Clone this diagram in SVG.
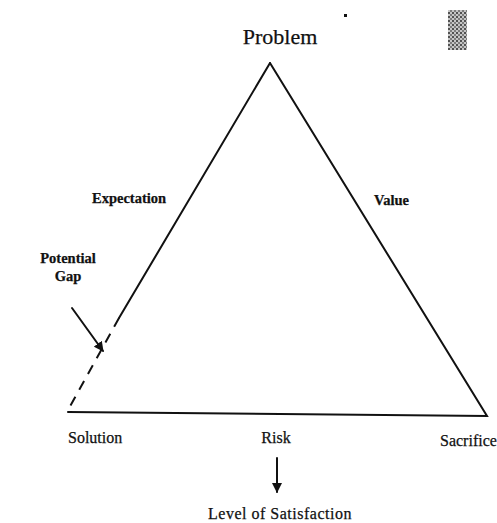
<svg xmlns="http://www.w3.org/2000/svg" width="497" height="523" viewBox="0 0 497 523">
<style>
.t{font-family:"Liberation Serif","Times New Roman",serif;fill:#111;stroke:#111;stroke-width:0.25}
.big{font-size:22px}
.lab{font-size:14.5px;font-weight:bold}
.reg{font-size:16px}
.edge{stroke:#111;stroke-width:2;fill:none;stroke-linecap:round}
.dash{stroke-dasharray:10 8;stroke-linecap:butt}
</style>
<defs>
<marker id="ah" viewBox="0 0 10 10" refX="9" refY="5" markerWidth="5" markerHeight="5" orient="auto">
<path d="M0,0 L10,5 L0,10 z" fill="#111"/>
</marker>
<pattern id="noise" width="4" height="4" patternUnits="userSpaceOnUse">
<rect width="4" height="4" fill="#bbb"/>
<rect width="2" height="2" fill="#333"/>
<rect x="2" y="2" width="2" height="2" fill="#666"/>
</pattern>
</defs>
<rect width="497" height="523" fill="#fff"/>
<rect x="448" y="10" width="19" height="40" fill="url(#noise)" opacity="0.85"/>
<rect x="344" y="14" width="3" height="3" fill="#111"/>
<g id="connectors">
<path class="edge" d="M270,63 L487,416 L68,412"/>
<path class="edge" d="M270,63 L119,318"/>
<path class="edge dash" d="M119,318 L68,410"/>
<path class="edge" d="M72,308 L103,351" marker-end="url(#ah)"/>
<path class="edge" d="M277,458 L277,492" marker-end="url(#ah)"/>
</g>
<g id="problem"><text class="t big" x="280" y="44" text-anchor="middle">Problem</text></g>
<g id="expectation"><text class="t lab" x="92" y="203">Expectation</text></g>
<g id="value"><text class="t lab" x="374" y="205" font-size="13.5">Value</text></g>
<g id="potential-gap"><text class="t lab" x="68" y="263" text-anchor="middle">Potential</text><text class="t lab" x="68" y="281" text-anchor="middle">Gap</text></g>
<g id="solution"><text class="t reg" x="68" y="443">Solution</text></g>
<g id="risk"><text class="t reg" x="276" y="443" text-anchor="middle">Risk</text></g>
<g id="sacrifice"><text class="t reg" x="440" y="446">Sacrifice</text></g>
<g id="satisfaction"><text class="t reg" x="280" y="519" text-anchor="middle" letter-spacing="0.5">Level of Satisfaction</text></g>
</svg>
